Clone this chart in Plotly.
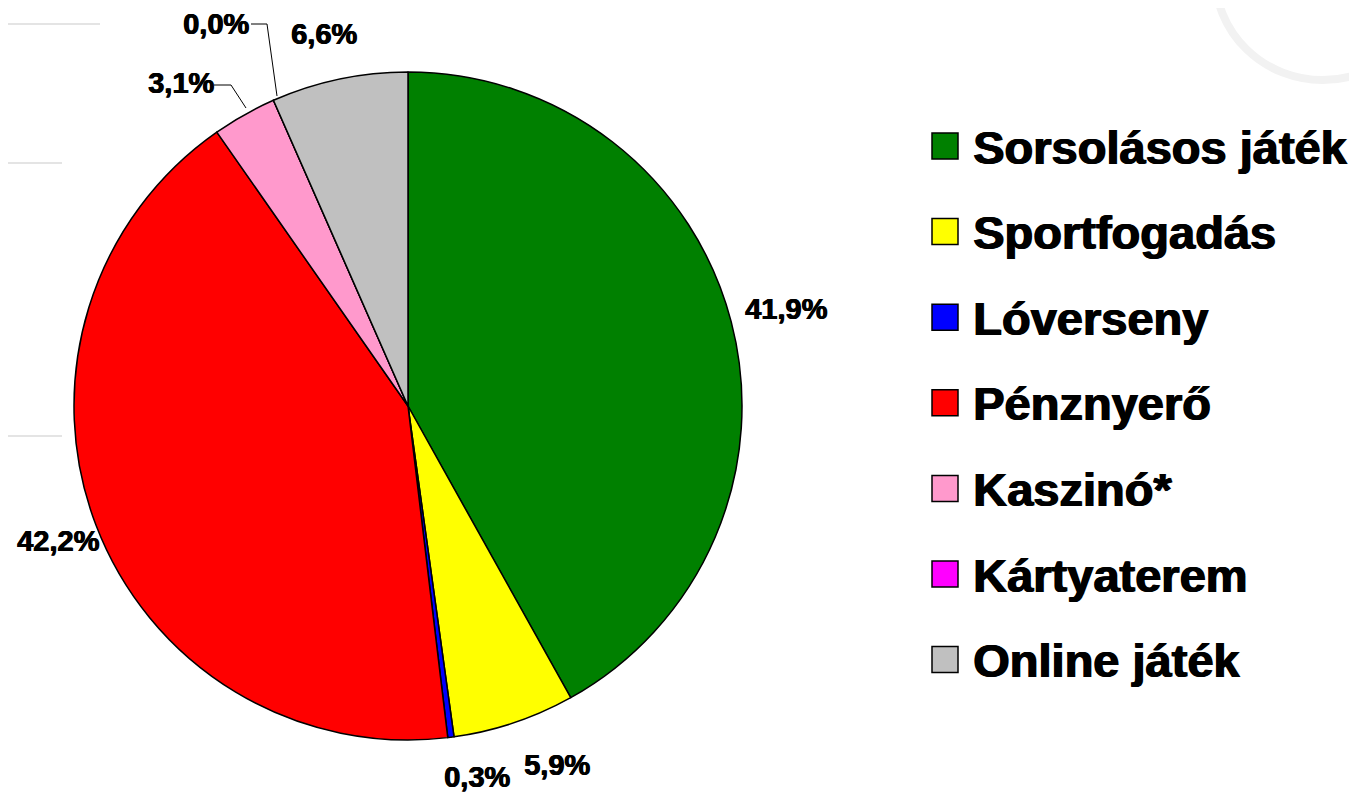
import plotly.graph_objects as go

categories = ["Sorsolásos játék", "Sportfogadás", "Lóverseny", "Pénznyerő",
              "Kaszinó*", "Kártyaterem", "Online játék"]
values = [41.9, 5.9, 0.3, 42.2, 3.1, 0.0, 6.6]
value_labels = ["41,9%", "5,9%", "0,3%", "42,2%", "3,1%", "0,0%", "6,6%"]
colors = ["#008000", "#FFFF00", "#0000FF", "#FF0000", "#FF99CC", "#FF00FF", "#C0C0C0"]

W, H = 1357, 797
OFF = 8  # page body margin
# label placement (pixel coordinates of text centres in the screenshot)
label_pos = [(786, 309), (557, 765), (477, 777), (58, 541), (181, 83), (216, 24), (324, 34)]

cx, cy, r = 408, 406, 334


def px(x):
    return (x - OFF) / W


def py(y):
    return 1 - (y - OFF) / H


fig = go.Figure()
fig.add_trace(go.Pie(
    labels=categories,
    values=values,
    sort=False,
    direction="clockwise",
    rotation=0,
    marker=dict(colors=colors, line=dict(color="#000000", width=1.5)),
    textinfo="none",
    hoverinfo="label+percent",
    showlegend=False,
    domain=dict(x=[px(cx - r), px(cx + r)], y=[py(cy + r), py(cy - r)]),
))

annotations = []
shapes = []

# faint background decorations
for (x0, x1, y) in [(8, 100, 24), (8, 62, 163), (8, 62, 436)]:
    shapes.append(dict(type="line", xref="paper", yref="paper",
                       x0=px(x0), x1=px(x1), y0=py(y), y1=py(y),
                       line=dict(color="#e4e4e4", width=2), layer="below"))
shapes.append(dict(type="circle", xref="paper", yref="paper",
                   x0=px(1215), x1=px(1430), y0=py(80), y1=py(-130),
                   line=dict(color="#f2f2f2", width=8), fillcolor="rgba(0,0,0,0)",
                   layer="below"))

heavy = "0.7px 0 0 #000, -0.3px 0 0 #000"

# value labels
for lab, (x, y) in zip(value_labels, label_pos):
    annotations.append(dict(text=lab, x=px(x), y=py(y), xref="paper", yref="paper",
                            showarrow=False, xanchor="center", yanchor="middle",
                            font=dict(family="Liberation Sans, Arial", size=29,
                                      color="#000000", weight="bold", shadow=heavy)))

# leader lines for small slices
shapes.append(dict(type="path", xref="paper", yref="paper",
                   path=f"M {px(214)},{py(85)} L {px(231)},{py(85)} L {px(246)},{py(108)}",
                   line=dict(color="#000000", width=1)))
shapes.append(dict(type="path", xref="paper", yref="paper",
                   path=f"M {px(251)},{py(24)} L {px(267)},{py(24)} L {px(277)},{py(96)}",
                   line=dict(color="#000000", width=1)))

# legend (manual, large)
leg_y0, leg_step = 146, 85.6
for i, (cat, col) in enumerate(zip(categories, colors)):
    yc = leg_y0 + i * leg_step
    shapes.append(dict(type="rect", xref="paper", yref="paper",
                       x0=px(932), x1=px(958), y0=py(yc + 13), y1=py(yc - 13),
                       fillcolor=col, line=dict(color="#000000", width=1.5)))
    annotations.append(dict(text=cat, x=px(971), y=py(yc + 1), xref="paper", yref="paper",
                            showarrow=False, xanchor="left", yanchor="middle",
                            font=dict(family="Liberation Sans, Arial", size=47,
                                      color="#000000", weight="bold",
                                      shadow="1px 0 0 #000, -0.5px 0 0 #000")))

fig.update_layout(
    width=W, height=H,
    margin=dict(l=0, r=0, t=0, b=0),
    paper_bgcolor="#ffffff",
    plot_bgcolor="#ffffff",
    annotations=annotations,
    shapes=shapes,
)

fig.write_html("out.html")
